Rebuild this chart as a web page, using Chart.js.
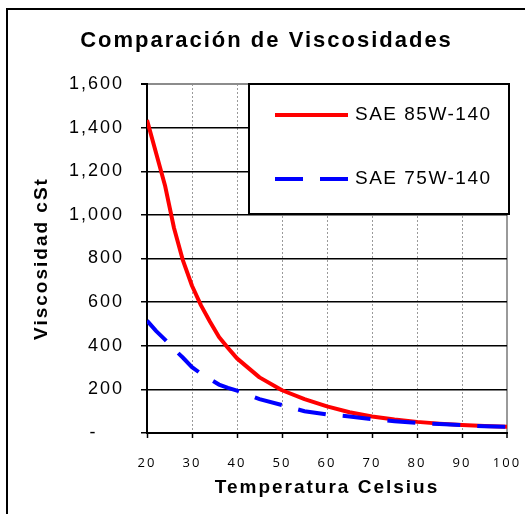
<!DOCTYPE html>
<html lang="es">
<head>
<meta charset="utf-8">
<title>Comparación de Viscosidades</title>
<script src="https://cdn.jsdelivr.net/npm/chart.js@4.4.1/dist/chart.umd.min.js"></script>
<style>
  html, body { margin: 0; padding: 0; background: #fff; }
  canvas { display: block; }
</style>
</head>
<body>
<canvas id="viscosidadChart" width="525" height="514"></canvas>
<script>
// ==================== DATOS DEL GRÁFICO ====================

// TEMPERATURAS (°C)
const temperaturas = [20, 22, 24, 26, 28, 30, 32, 34, 36, 38, 40, 45, 50, 55, 60, 65, 70, 75, 80, 85, 90, 95, 100];

// VISCOSIDAD EN cSt
const sae85W140 = [1435, 1285, 1135, 940, 790, 675, 585, 510, 440, 390, 342, 255, 196, 155, 122, 95, 76, 62, 51, 43, 37, 32, 29];
const sae75W140 = [515, 468, 428, 385, 345, 302, 272, 247, 222, 207, 194, 155, 128, 100, 85, 76, 63, 54, 47, 41, 36, 31, 28];

// NOMBRES DE LAS SERIES
const nombresSeries = ["SAE 85W-140", "SAE 75W-140"];

// LÍMITES DE LOS EJES [MIN, MAX, PASO]
const limitesX = [20, 100, 10];
const limitesY = [0, 1600, 200];

const fuente = "'Liberation Sans', Arial, sans-serif";

// ==================== PLUGINS ====================

// ESPACIADO DE LETRAS + MARCO EXTERIOR
const marco = {
    id: "marco",
    beforeDraw(chart) {
        const ctx = chart.ctx;
        ctx.letterSpacing = "2px";
        ctx.save();
        ctx.lineWidth = 2;
        ctx.strokeStyle = "#000";
        ctx.strokeRect(7, 9, 700, 700);
        ctx.restore();
    }
};

// LEYENDA DENTRO DEL ÁREA DEL GRÁFICO
const leyendaCaja = {
    id: "leyendaCaja",
    afterDraw(chart) {
        const { ctx, chartArea } = chart;
        const x = chartArea.left + 102;
        const y = chartArea.top;
        const w = 260;
        const h = 130;

        ctx.save();
        ctx.fillStyle = "#fff";
        ctx.fillRect(x, y, w, h);
        ctx.lineWidth = 2;
        ctx.strokeStyle = "#000";
        ctx.strokeRect(x, y, w, h);

        chart.data.datasets.forEach((ds, i) => {
            const fy = y + 31 + i * 64;
            ctx.beginPath();
            ctx.lineWidth = ds.borderWidth;
            ctx.strokeStyle = ds.borderColor;
            ctx.setLineDash(ds.borderDash || []);
            ctx.moveTo(x + 26, fy);
            ctx.lineTo(x + 99, fy);
            ctx.stroke();
            ctx.setLineDash([]);

            ctx.letterSpacing = "1.5px";
            ctx.fillStyle = "#000";
            ctx.font = "19px " + fuente;
            ctx.textBaseline = "middle";
            ctx.textAlign = "left";
            ctx.fillText(ds.label, x + 106, fy);
        });
        ctx.restore();
    }
};

// ==================== GRÁFICO ====================
const canvas = document.getElementById("viscosidadChart");

const grafico = new Chart(canvas, {
    type: "line",
    data: {
        labels: temperaturas,
        datasets: [
            {
                label: nombresSeries[0],
                data: temperaturas.map((t, i) => ({ x: t, y: sae85W140[i] })),
                borderColor: "#ff0000",
                borderWidth: 4,
                borderJoinStyle: "round",
                pointRadius: 0,
                order: 1
            },
            {
                label: nombresSeries[1],
                data: temperaturas.map((t, i) => ({ x: t, y: sae75W140[i] })),
                borderColor: "#0000ff",
                borderWidth: 4,
                borderDash: [28, 17],
                pointRadius: 0,
                order: 0
            }
        ]
    },
    options: {
        responsive: false,
        animation: false,
        layout: {
            padding: { left: 8, right: 0, top: 0, bottom: 0 }
        },
        plugins: {
            legend: { display: false },
            tooltip: { enabled: false },
            title: {
                display: true,
                text: "Comparación de Viscosidades",
                color: "#000",
                font: { family: fuente, size: 22, weight: "bold" },
                padding: { top: 28, bottom: 29.6 }
            }
        },
        scales: {
            x: {
                type: "linear",
                min: limitesX[0],
                max: limitesX[1],
                afterFit: (s) => {
                    s.height = 81;
                    s.paddingRight = 18;
                },
                ticks: {
                    stepSize: limitesX[2],
                    color: "#000",
                    padding: 17,
                    font: { family: "'Open Sans', sans-serif", size: 13 }
                },
                grid: {
                    color: "#9a9a9a",
                    lineWidth: (c) => (c.tick && c.tick.value === limitesX[1] ? 2 : 1),
                    tickColor: "#000",
                    tickLength: 5,
                    tickWidth: 1.5
                },
                border: {
                    color: "#000",
                    width: 2,
                    dash: (c) => (c.tick && c.tick.value === limitesX[1] ? [] : [2, 2])
                },
                title: {
                    display: true,
                    text: "Temperatura Celsius",
                    color: "#000",
                    font: { family: fuente, size: 19, weight: "bold" },
                    padding: { top: 0, bottom: 15 }
                }
            },
            y: {
                min: limitesY[0],
                max: limitesY[1],
                afterFit: (s) => {
                    s.width = 139;
                },
                ticks: {
                    stepSize: limitesY[2],
                    color: "#000",
                    padding: 17,
                    font: { family: fuente, size: 18 },
                    callback: (v) => (v === 0 ? "-   \u2009" : v.toLocaleString("en-US"))
                },
                grid: {
                    color: (c) => (c.tick && c.tick.value === limitesY[1] ? "#8c8c8c" : "#000"),
                    lineWidth: (c) => (c.tick && c.tick.value === limitesY[1] ? 2 : 1.5),
                    tickColor: "#000",
                    tickLength: 6
                },
                border: {
                    color: "#000",
                    width: 2
                },
                title: {
                    display: true,
                    text: "Viscosidad cSt",
                    color: "#000",
                    font: { family: fuente, size: 19, weight: "bold" },
                    padding: { top: 22, bottom: 0 }
                }
            }
        }
    },
    plugins: [marco, leyendaCaja]
});
</script>
</body>
</html>
